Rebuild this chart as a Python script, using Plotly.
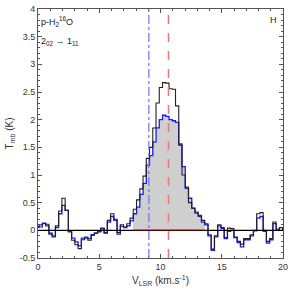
import plotly.graph_objects as go

# Velocity grid of the spectrum (km/s): first channel centre and channel width
v_first = -0.0375
dv = 0.265

# Black spectrum (Tmb, K)
t_black = [0.05, 0.06, 0.12, 0.11, -0.05, -0.12, 0.08, 0.35, 0.58, 0.36,
           -0.03, -0.18, -0.26, -0.33, -0.17, -0.12, -0.18, -0.09, -0.05, -0.03,
           0.04, -0.05, 0.18, 0.30, 0.20, -0.04, 0.10, 0.06, 0.12, 0.22,
           0.38, 0.55, 0.75, 0.98, 1.30, 1.50, 1.85, 2.30, 2.58, 2.67,
           2.66, 2.56, 2.55, 2.25, 1.54, 1.00, 0.78, 0.50, 0.40, 0.33,
           0.25, 0.18, 0.12, -0.08, -0.34, -0.10, 0.10, 0.05, -0.13, 0.04,
           0.03, -0.12, -0.20, -0.25, -0.15, -0.15, -0.08, 0.00, 0.30, 0.32,
           0.00, -0.20, -0.15, 0.15, 0.02, 0.05, 0.00]

# Blue spectrum (Tmb, K)
t_blue = [0.07, 0.10, 0.13, 0.08, -0.07, -0.10, 0.05, 0.30, 0.45, 0.36,
          -0.02, -0.14, -0.21, -0.28, -0.14, -0.14, -0.15, -0.08, -0.05, -0.02,
          0.03, -0.04, 0.15, 0.25, 0.18, -0.07, 0.07, 0.05, 0.08, 0.17,
          0.30, 0.42, 0.65, 0.85, 1.18, 1.35, 1.60, 1.85, 2.00, 2.08,
          2.06, 2.00, 1.98, 1.95, 1.56, 1.15, 0.76, 0.58, 0.40, 0.31,
          0.27, 0.15, 0.10, -0.10, -0.36, -0.12, 0.08, 0.03, -0.15, -0.02,
          0.00, -0.13, -0.22, -0.30, -0.17, -0.17, -0.10, -0.01, 0.22, 0.25,
          -0.02, -0.23, -0.17, 0.12, 0.00, 0.05, 0.02]

# Channels integrated (grey area): first and last channel index
fill_first, fill_last = 30, 51

# Reference velocities
v_blue_ref = 9.05
v_red_ref = 10.65

# Axis ticks
x_ticks = [0, 5, 10, 15, 20]
y_ticks = [-0.5, 0, 0.5, 1, 1.5, 2, 2.5, 3, 3.5, 4]
y_tick_text = ["-0.5", "0", "0.5", "1", "1.5", "2", "2.5", "3", "3.5", "4"]

FONT = "Liberation Sans, Arial, Helvetica, sans-serif"
AX = "#555555"

fig = go.Figure()

fill_y = t_blue[fill_first:fill_last + 1]
fig.add_trace(go.Bar(y=fill_y, x0=v_first + dv * fill_first, dx=dv, width=dv,
                     marker=dict(color="#cfcfcf", line=dict(width=0)),
                     showlegend=False, hoverinfo="skip"))

fill_x_start = v_first + dv * (fill_first - 0.5)
fill_x_end = v_first + dv * (fill_last + 0.5)

fig.add_shape(type="line", xref="paper", yref="y", x0=0, x1=1, y0=0, y1=0,
              line=dict(color="black", width=1.2), layer="above")
fig.add_shape(type="line", xref="x", yref="y", x0=fill_x_start, x1=fill_x_end,
              y0=0, y1=0, line=dict(color="#5a0000", width=1.2), layer="above")

fig.add_trace(go.Scatter(y=t_blue, x0=v_first, dx=dv, mode="lines",
                         line=dict(color="#1a1aff", width=1.3, shape="hvh"),
                         showlegend=False, hoverinfo="skip"))
fig.add_trace(go.Scatter(y=t_black, x0=v_first, dx=dv, mode="lines",
                         line=dict(color="#222222", width=1.1, shape="hvh"),
                         showlegend=False, hoverinfo="skip"))

fig.add_shape(type="line", xref="x", yref="paper", x0=v_blue_ref, x1=v_blue_ref,
              y0=0, y1=1, line=dict(color="#6f6ff5", width=1.2, dash="dashdot"))
fig.add_shape(type="line", xref="x", yref="paper", x0=v_red_ref, x1=v_red_ref,
              y0=0, y1=1, line=dict(color="#ff7070", width=1.5, dash="dash"))

fig.add_annotation(xref="paper", yref="paper", x=0.005, y=0.985, xanchor="left", yanchor="top",
                   text="p-H<sub>2</sub><sup>16</sup>O", showarrow=False,
                   font=dict(family=FONT, size=9, color="#222"))
fig.add_annotation(xref="paper", yref="paper", x=0.005, y=0.9, xanchor="left", yanchor="top",
                   text="2<sub>02</sub> → 1<sub>11</sub>", showarrow=False,
                   font=dict(family=FONT, size=9, color="#222"))
fig.add_annotation(xref="paper", yref="paper", x=0.985, y=0.985, xanchor="right", yanchor="top",
                   text="H", showarrow=False, font=dict(family=FONT, size=9, color="#222"))

axis_common = dict(showline=True, linecolor=AX, linewidth=1, mirror="allticks",
                   ticks="inside", tickcolor=AX, ticklen=4, tickwidth=1,
                   showgrid=False, zeroline=False,
                   tickfont=dict(family=FONT, size=9, color="#333"))

fig.update_xaxes(range=[0, 20], tickvals=x_ticks,
                 minor=dict(ticks="inside", dtick=1, ticklen=2, tickcolor=AX),
                 title=dict(text="V<sub>LSR</sub> (km.s<sup>-1</sup>)",
                            font=dict(family=FONT, size=10, color="#333"), standoff=6),
                 **axis_common)
fig.update_yaxes(range=[-0.5, 4], tickvals=y_ticks, ticktext=y_tick_text,
                 minor=dict(ticks="inside", dtick=0.1, ticklen=2, tickcolor=AX),
                 title=dict(text="T<sub>mb</sub> (K)",
                            font=dict(family=FONT, size=10, color="#333"), standoff=4),
                 **axis_common)

fig.update_layout(width=292, height=293, margin=dict(l=38, r=6, t=4, b=35),
                  paper_bgcolor="white", plot_bgcolor="white", bargap=0)

fig.write_html("out.html", config={"displayModeBar": False},
               post_script="document.body.style.margin='0';document.body.style.overflow='hidden';")
